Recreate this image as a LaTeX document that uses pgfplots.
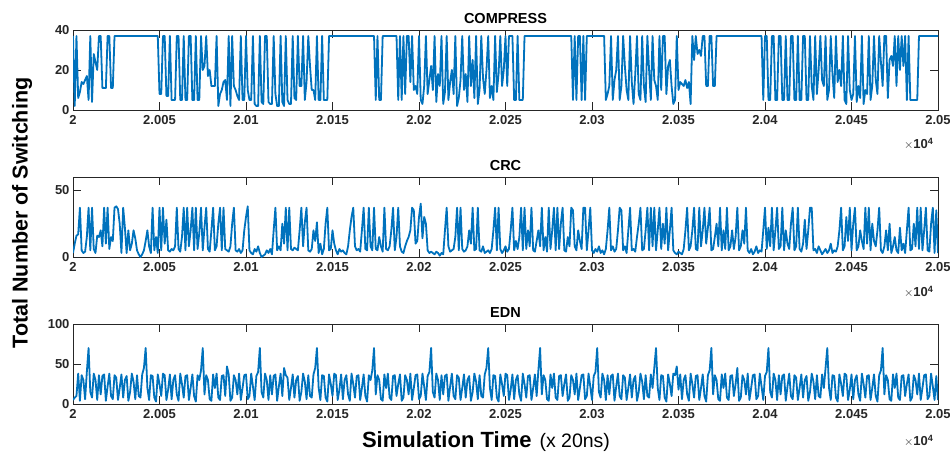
\documentclass[border=0pt]{standalone}
\usepackage{pgfplots}
\pgfplotsset{compat=1.18}
\usepackage{pgfplotstable}
\usepackage{fontspec}
\setmainfont{Liberation Sans}
\definecolor{mblue}{RGB}{0,114,189}
\definecolor{axgray}{RGB}{38,38,38}

% switching counts per simulation step, starting at t = 20000
\pgfplotstableread[row sep=\\]{y\\
37\\ 2\\ 37\\ 6\\ 9\\ 14\\ 13\\ 15\\ 17\\ 5\\ 37\\ 4\\ 28\\ 24\\ 20\\ 37\\ 37\\ 11\\ 11\\ 11\\ 37\\ 37\\ 11\\ 11\\ 37\\
37\\ 37\\ 37\\ 37\\ 37\\ 37\\ 37\\ 37\\ 37\\ 37\\ 37\\ 37\\ 37\\ 37\\ 37\\ 37\\ 37\\ 37\\ 37\\ 37\\ 37\\ 37\\ 37\\ 37\\ 37\\
8\\ 8\\ 37\\ 37\\ 7\\ 7\\ 37\\ 5\\ 5\\ 5\\
37\\ 37\\ 5\\ 5\\ 37\\ 5\\ 5\\ 37\\ 37\\ 5\\
5\\ 37\\ 5\\ 5\\ 37\\ 20\\ 22\\ 37\\ 17\\ 20\\
12\\ 12\\ 12\\ 37\\ 2\\ 8\\ 10\\ 14\\ 15\\ 5\\
37\\ 2\\ 37\\ 12\\ 10\\ 7\\ 5\\ 37\\ 5\\ 5\\
37\\ 10\\ 5\\ 5\\ 37\\ 3\\ 2\\ 2\\ 37\\ 4\\
3\\ 37\\ 37\\ 4\\ 3\\ 3\\ 37\\ 8\\ 2\\ 2\\
37\\ 4\\ 2\\ 37\\ 5\\ 3\\ 3\\ 37\\ 6\\ 5\\
37\\ 12\\ 12\\ 37\\ 5\\ 14\\ 37\\ 22\\ 10\\ 10\\
5\\ 37\\ 5\\ 5\\ 37\\ 5\\ 5\\ 5\\ 37\\ 37\\
37\\ 37\\ 37\\ 37\\ 37\\ 37\\ 37\\ 37\\ 37\\ 37\\ 37\\ 37\\ 37\\ 37\\ 37\\ 37\\ 37\\ 37\\ 37\\ 37\\ 37\\ 37\\ 37\\ 37\\ 37\\
5\\ 37\\ 5\\ 5\\ 37\\ 37\\ 37\\ 37\\ 37\\ 37\\ 37\\ 37\\ 37\\ 5\\ 37\\ 5\\ 37\\ 8\\ 37\\ 37\\ 14\\ 37\\ 10\\ 12\\ 8\\
37\\ 5\\ 3\\ 12\\ 37\\ 8\\ 15\\ 22\\ 10\\ 37\\
4\\ 18\\ 12\\ 37\\ 3\\ 9\\ 37\\ 5\\ 14\\ 20\\
8\\ 37\\ 2\\ 6\\ 15\\ 37\\ 10\\ 18\\ 4\\ 37\\
12\\ 25\\ 6\\ 37\\ 3\\ 10\\ 37\\ 16\\ 8\\ 20\\
37\\ 6\\ 12\\ 5\\ 37\\ 9\\ 18\\ 37\\ 12\\ 20\\
37\\ 12\\ 37\\ 37\\ 37\\ 5\\ 5\\ 37\\ 5\\ 5\\ 5\\ 37\\ 37\\
37\\ 37\\ 37\\ 37\\ 37\\ 37\\ 37\\ 37\\ 37\\ 37\\ 37\\ 37\\ 37\\ 37\\ 37\\ 37\\ 37\\ 37\\ 37\\ 37\\ 37\\ 37\\ 37\\ 37\\ 37\\ 37\\
5\\ 37\\ 5\\ 37\\ 37\\ 5\\ 37\\ 5\\ 37\\ 37\\ 37\\ 37\\
37\\ 37\\ 37\\ 37\\ 37\\ 37\\ 37\\ 5\\ 8\\ 12\\ 37\\ 5\\ 15\\ 20\\ 37\\ 5\\ 12\\ 37\\ 22\\ 10\\ 5\\ 37\\ 14\\ 3\\ 18\\ 37\\ 8\\ 5\\ 37\\ 12\\ 4\\ 37\\ 20\\ 5\\
37\\ 15\\ 12\\ 5\\ 37\\ 10\\ 37\\ 37\\ 8\\ 22\\ 25\\ 12\\ 3\\ 5\\ 37\\ 10\\ 14\\ 13\\ 12\\ 15\\ 11\\ 14\\ 3\\ 37\\ 25\\ 37\\ 28\\ 30\\ 27\\ 37\\ 37\\ 12\\ 12\\ 37\\ 37\\ 12\\ 12\\ 37\\
37\\ 37\\ 37\\ 37\\ 37\\ 37\\ 37\\ 37\\ 37\\ 37\\ 37\\ 37\\ 37\\ 37\\ 37\\ 37\\ 37\\ 37\\ 37\\ 37\\ 37\\ 37\\ 37\\ 37\\ 37\\ 37\\
5\\ 37\\ 37\\ 5\\ 5\\ 37\\ 37\\ 5\\ 5\\ 37\\ 37\\ 5\\ 5\\ 37\\ 5\\ 5\\ 37\\ 37\\ 5\\ 5\\ 37\\ 5\\ 5\\ 37\\ 37\\ 5\\ 5\\
37\\ 12\\ 5\\ 37\\ 8\\ 20\\ 37\\ 15\\ 12\\ 37\\ 5\\ 10\\ 37\\ 18\\ 6\\ 37\\ 14\\ 20\\ 12\\ 37\\ 5\\ 3\\ 37\\ 10\\
5\\ 8\\ 37\\ 4\\ 12\\ 6\\ 37\\ 3\\ 10\\ 8\\ 37\\ 5\\ 12\\
37\\ 15\\ 8\\ 37\\ 24\\ 12\\ 37\\ 37\\ 6\\ 25\\ 27\\ 22\\ 37\\ 12\\ 37\\ 20\\
37\\ 22\\ 37\\ 5\\ 37\\ 5\\ 5\\ 5\\ 5\\ 5\\ 37\\ 37\\
37\\ 37\\ 37\\ 37\\ 37\\ 37\\ 37\\ 37\\ 37\\ 37\\
}\compress

\pgfplotstableread[row sep=\\]{y\\
3\\ 10\\ 16\\ 17\\ 37\\ 5\\ 3\\ 4\\ 15\\ 37\\
5\\ 37\\ 6\\ 3\\ 16\\ 15\\ 20\\ 8\\ 37\\ 10\\
37\\ 6\\ 15\\ 12\\ 37\\ 38\\ 36\\ 25\\ 3\\ 37\\
22\\ 3\\ 20\\ 5\\ 10\\ 20\\ 14\\ 5\\ 2\\ 0\\
2\\ 5\\ 12\\ 20\\ 8\\ 3\\ 37\\ 5\\ 15\\ 3\\
37\\ 5\\ 37\\ 10\\ 28\\ 5\\ 4\\ 6\\ 5\\ 8\\
37\\ 6\\ 4\\ 15\\ 37\\ 5\\ 37\\ 8\\ 20\\ 37\\
5\\ 37\\ 6\\ 18\\ 37\\ 5\\ 22\\ 37\\ 6\\ 4\\
20\\ 37\\ 5\\ 8\\ 25\\ 37\\ 5\\ 37\\ 6\\ 5\\
4\\ 8\\ 25\\ 37\\ 5\\ 4\\ 6\\ 3\\ 5\\ 20\\
30\\ 38\\ 5\\ 3\\ 2\\ 6\\ 4\\ 8\\ 3\\ 0\\
1\\ 2\\ 5\\ 3\\ 6\\ 2\\ 20\\ 37\\ 5\\ 8\\
5\\ 25\\ 10\\ 37\\ 5\\ 37\\ 6\\ 5\\ 7\\ 6\\
5\\ 20\\ 37\\ 8\\ 26\\ 37\\ 5\\ 4\\ 6\\ 20\\
12\\ 26\\ 3\\ 10\\ 2\\ 6\\ 25\\ 37\\ 5\\ 6\\
20\\ 10\\ 5\\ 2\\ 6\\ 4\\ 5\\ 3\\ 2\\ 8\\
20\\ 30\\ 37\\ 8\\ 5\\ 6\\ 4\\ 20\\ 37\\ 6\\
5\\ 37\\ 8\\ 5\\ 37\\ 6\\ 5\\ 15\\ 8\\ 4\\
37\\ 6\\ 5\\ 8\\ 20\\ 37\\ 5\\ 15\\ 37\\ 8\\
4\\ 3\\ 8\\ 12\\ 15\\ 20\\ 37\\ 35\\ 10\\ 12\\
30\\ 40\\ 14\\ 30\\ 25\\ 5\\ 3\\ 4\\ 3\\ 2\\
4\\ 3\\ 1\\ 3\\ 2\\ 20\\ 37\\ 8\\ 4\\ 5\\
6\\ 15\\ 37\\ 5\\ 37\\ 6\\ 4\\ 5\\ 8\\ 20\\
10\\ 37\\ 5\\ 6\\ 37\\ 5\\ 4\\ 8\\ 3\\ 4\\
5\\ 3\\ 6\\ 20\\ 37\\ 5\\ 37\\ 6\\ 3\\ 5\\
8\\ 4\\ 6\\ 20\\ 37\\ 5\\ 12\\ 6\\ 15\\ 37\\
5\\ 37\\ 6\\ 20\\ 8\\ 37\\ 5\\ 4\\ 12\\ 20\\
8\\ 37\\ 5\\ 15\\ 4\\ 37\\ 6\\ 20\\ 37\\ 5\\
37\\ 6\\ 25\\ 37\\ 5\\ 4\\ 15\\ 8\\ 37\\ 35\\
8\\ 5\\ 20\\ 12\\ 6\\ 37\\ 37\\ 5\\ 20\\ 37\\
5\\ 3\\ 6\\ 4\\ 8\\ 3\\ 5\\ 2\\ 6\\ 20\\
37\\ 5\\ 8\\ 4\\ 6\\ 20\\ 37\\ 35\\ 5\\ 8\\
3\\ 20\\ 37\\ 5\\ 6\\ 4\\ 15\\ 25\\ 37\\ 5\\
6\\ 20\\ 37\\ 5\\ 37\\ 8\\ 37\\ 5\\ 20\\ 37\\
6\\ 25\\ 10\\ 37\\ 5\\ 20\\ 37\\ 5\\ 3\\ 2\\
4\\ 3\\ 2\\ 6\\ 20\\ 37\\ 5\\ 8\\ 20\\ 37\\
6\\ 5\\ 37\\ 8\\ 20\\ 37\\ 10\\ 22\\ 37\\ 5\\
6\\ 15\\ 25\\ 8\\ 37\\ 5\\ 20\\ 6\\ 37\\ 5\\
8\\ 20\\ 6\\ 15\\ 37\\ 5\\ 8\\ 20\\ 10\\ 37\\
5\\ 3\\ 6\\ 2\\ 4\\ 8\\ 3\\ 5\\ 4\\ 20\\
37\\ 6\\ 22\\ 8\\ 37\\ 5\\ 20\\ 37\\ 6\\ 8\\
37\\ 5\\ 20\\ 10\\ 6\\ 25\\ 37\\ 5\\ 8\\ 37\\
6\\ 4\\ 10\\ 28\\ 6\\ 20\\ 37\\ 37\\ 5\\ 6\\
3\\ 8\\ 5\\ 2\\ 4\\ 6\\ 3\\ 5\\ 10\\ 3\\
5\\ 4\\ 8\\ 20\\ 37\\ 5\\ 8\\ 30\\ 12\\ 37\\
5\\ 25\\ 37\\ 5\\ 8\\ 20\\ 12\\ 6\\ 37\\ 10\\
37\\ 5\\ 25\\ 12\\ 8\\ 20\\ 37\\ 5\\ 3\\ 8\\
20\\ 5\\ 25\\ 3\\ 8\\ 15\\ 5\\ 3\\ 22\\ 5\\
10\\ 3\\ 20\\ 37\\ 5\\ 6\\ 25\\ 8\\ 37\\ 6\\
37\\ 5\\ 20\\ 37\\ 5\\ 4\\ 25\\ 37\\ 3\\ 35\\
3\\
}\crc

\pgfplotstableread[row sep=\\]{y\\
5\\ 8\\ 10\\ 38\\ 4\\ 36\\ 30\\ 6\\ 40\\
70\\ 15\\ 8\\ 38\\ 30\\ 5\\ 36\\ 12\\ 35\\ 37\\ 4\\ 22\\ 38\\ 10\\ 6\\ 36\\ 33\\ 5\\ 20\\ 37\\ 8\\ 30\\ 35\\ 4\\ 15\\ 38\\ 28\\ 6\\ 36\\ 10\\ 8\\ 37\\ 45\\
70\\ 20\\ 5\\ 36\\ 35\\ 8\\ 3\\ 37\\ 25\\ 10\\ 38\\ 36\\ 5\\ 18\\ 37\\ 6\\ 30\\ 36\\ 12\\ 4\\ 38\\ 25\\ 8\\ 35\\ 36\\ 5\\ 20\\ 37\\ 10\\ 3\\ 36\\ 30\\ 42\\
70\\ 12\\ 36\\ 30\\ 6\\ 4\\ 37\\ 20\\ 38\\ 8\\ 5\\ 35\\ 36\\ 10\\ 47\\ 37\\ 4\\ 8\\ 36\\ 30\\ 12\\ 38\\ 5\\ 20\\ 36\\ 37\\ 6\\ 10\\ 38\\ 22\\ 5\\ 35\\ 40\\
70\\ 15\\ 8\\ 38\\ 30\\ 5\\ 36\\ 12\\ 35\\ 37\\ 4\\ 22\\ 38\\ 10\\ 45\\ 36\\ 33\\ 5\\ 20\\ 37\\ 8\\ 30\\ 35\\ 4\\ 15\\ 38\\ 28\\ 6\\ 36\\ 10\\ 8\\ 37\\ 45\\
70\\ 20\\ 5\\ 36\\ 35\\ 8\\ 3\\ 37\\ 25\\ 10\\ 38\\ 36\\ 5\\ 18\\ 37\\ 6\\ 30\\ 36\\ 12\\ 4\\ 38\\ 25\\ 8\\ 35\\ 36\\ 5\\ 20\\ 37\\ 10\\ 3\\ 36\\ 30\\ 42\\
70\\ 12\\ 36\\ 30\\ 6\\ 4\\ 37\\ 20\\ 38\\ 8\\ 5\\ 35\\ 36\\ 10\\ 25\\ 37\\ 4\\ 8\\ 36\\ 30\\ 12\\ 38\\ 5\\ 20\\ 36\\ 37\\ 6\\ 10\\ 38\\ 22\\ 5\\ 35\\ 40\\
70\\ 15\\ 8\\ 38\\ 30\\ 5\\ 36\\ 12\\ 35\\ 37\\ 4\\ 22\\ 38\\ 10\\ 6\\ 36\\ 33\\ 5\\ 20\\ 37\\ 8\\ 30\\ 35\\ 4\\ 15\\ 38\\ 28\\ 6\\ 36\\ 10\\ 8\\ 37\\ 45\\
70\\ 20\\ 5\\ 36\\ 35\\ 8\\ 3\\ 37\\ 25\\ 10\\ 38\\ 36\\ 5\\ 18\\ 37\\ 6\\ 30\\ 36\\ 12\\ 4\\ 38\\ 25\\ 8\\ 35\\ 36\\ 5\\ 20\\ 37\\ 10\\ 42\\
70\\ 12\\ 36\\ 30\\ 6\\ 4\\ 37\\ 20\\ 38\\ 8\\ 5\\ 35\\ 36\\ 10\\ 25\\ 37\\ 4\\ 8\\ 36\\ 30\\ 12\\ 38\\ 5\\ 20\\ 36\\ 37\\ 6\\ 10\\ 38\\ 22\\ 5\\ 35\\ 40\\
70\\ 15\\ 8\\ 38\\ 30\\ 5\\ 36\\ 12\\ 35\\ 37\\ 4\\ 22\\ 38\\ 10\\ 6\\ 36\\ 33\\ 5\\ 20\\ 37\\ 8\\ 30\\ 35\\ 4\\ 15\\ 38\\ 28\\ 6\\ 36\\ 10\\ 8\\ 37\\ 20\\ 45\\
70\\ 20\\ 5\\ 36\\ 35\\ 8\\ 3\\ 37\\ 25\\ 10\\ 38\\ 36\\ 47\\ 18\\ 37\\ 6\\ 30\\ 36\\ 12\\ 4\\ 38\\ 25\\ 8\\ 35\\ 36\\ 5\\ 20\\ 37\\ 10\\ 3\\ 36\\ 42\\
70\\ 12\\ 36\\ 30\\ 6\\ 4\\ 37\\ 20\\ 38\\ 8\\ 5\\ 35\\ 36\\ 10\\ 25\\ 45\\ 4\\ 8\\ 36\\ 30\\ 12\\ 38\\ 5\\ 20\\ 36\\ 37\\ 6\\ 10\\ 38\\ 22\\ 5\\ 35\\ 40\\
70\\ 15\\ 8\\ 38\\ 30\\ 5\\ 36\\ 12\\ 35\\ 37\\ 4\\ 22\\ 38\\ 10\\ 6\\ 36\\ 33\\ 5\\ 20\\ 37\\ 8\\ 30\\ 35\\ 4\\ 15\\ 38\\ 28\\ 6\\ 36\\ 10\\ 8\\ 37\\ 20\\ 45\\
70\\ 20\\ 5\\ 36\\ 35\\ 8\\ 3\\ 37\\ 25\\ 10\\ 38\\ 36\\ 5\\ 18\\ 37\\ 6\\ 30\\ 36\\ 12\\ 4\\ 38\\ 25\\ 8\\ 35\\ 36\\ 5\\ 20\\ 37\\ 10\\ 3\\ 36\\ 42\\
70\\ 12\\ 36\\ 30\\ 6\\ 4\\ 37\\ 20\\ 38\\ 8\\ 5\\ 35\\ 36\\ 10\\ 25\\ 37\\ 4\\ 8\\ 36\\ 30\\ 12\\ 38\\ 5\\ 20\\ 36\\ 37\\ 6\\ 10\\ 38\\ 22\\ 5\\ 35\\ 5\\
}\edn

\pgfplotsset{
  swplot/.style={
    scale only axis, width=865pt, height=80pt, anchor=south west,
    xmin=20000, xmax=20500,
    xtick={20000,20050,...,20500},
    xticklabels={2,2.005,2.01,2.015,2.02,2.025,2.03,2.035,2.04,2.045,2.05},
    scaled x ticks=false,
    tick align=inside, major tick length=8pt,
    axis line style={axgray, line width=0.9pt},
    tick style={axgray, line width=0.9pt},
    ticklabel style={font=\fontsize{13}{15}\selectfont\bfseries, text=axgray},
    xticklabel style={yshift=-2pt},
    title style={font=\fontsize{14.5}{16}\selectfont\bfseries, text=black, yshift=-3pt},
  },
  swline/.style={mblue, line width=1.8pt, mark=none, line join=round},
}

\newcommand{\tenfour}{{\fontsize{13}{15}\selectfont\color{axgray}$\times$\textbf{10}\textsuperscript{\textbf{4}}}}

\begin{document}
\begin{tikzpicture}[x=1pt,y=1pt]
\useasboundingbox (0,0) rectangle (950,456);

\begin{axis}[swplot, at={(73pt,346pt)}, ymin=0, ymax=40,
  ytick={0,20,40}, yticklabels={0,20,40}, title={COMPRESS}]
  \addplot[swline] table[x expr=\coordindex+20000, y=y]{\compress};
\end{axis}
\node[anchor=east] at (937,312) {\tenfour};

\begin{axis}[swplot, at={(73pt,199pt)}, ymin=0, ymax=60,
  ytick={0,50}, yticklabels={0,50}, title={CRC}]
  \addplot[swline] table[x expr=\coordindex+20000, y=y]{\crc};
\end{axis}
\node[anchor=east] at (937,164) {\tenfour};

\begin{axis}[swplot, at={(73pt,52pt)}, ymin=0, ymax=100,
  ytick={0,50,100}, yticklabels={0,50,100}, title={EDN}]
  \addplot[swline] table[x expr=\coordindex+20000, y=y]{\edn};
\end{axis}
\node[anchor=east] at (937,15) {\tenfour};

\node[rotate=90, font=\fontsize{21.5}{24}\selectfont\bfseries] at (22,243) {Total Number of Switching};
\node[anchor=base] at (486,9) {{\fontsize{22}{24}\selectfont\bfseries Simulation Time}\hspace{8pt}{\fontsize{19.5}{22}\selectfont (x 20ns)}};
\end{tikzpicture}
\end{document}
